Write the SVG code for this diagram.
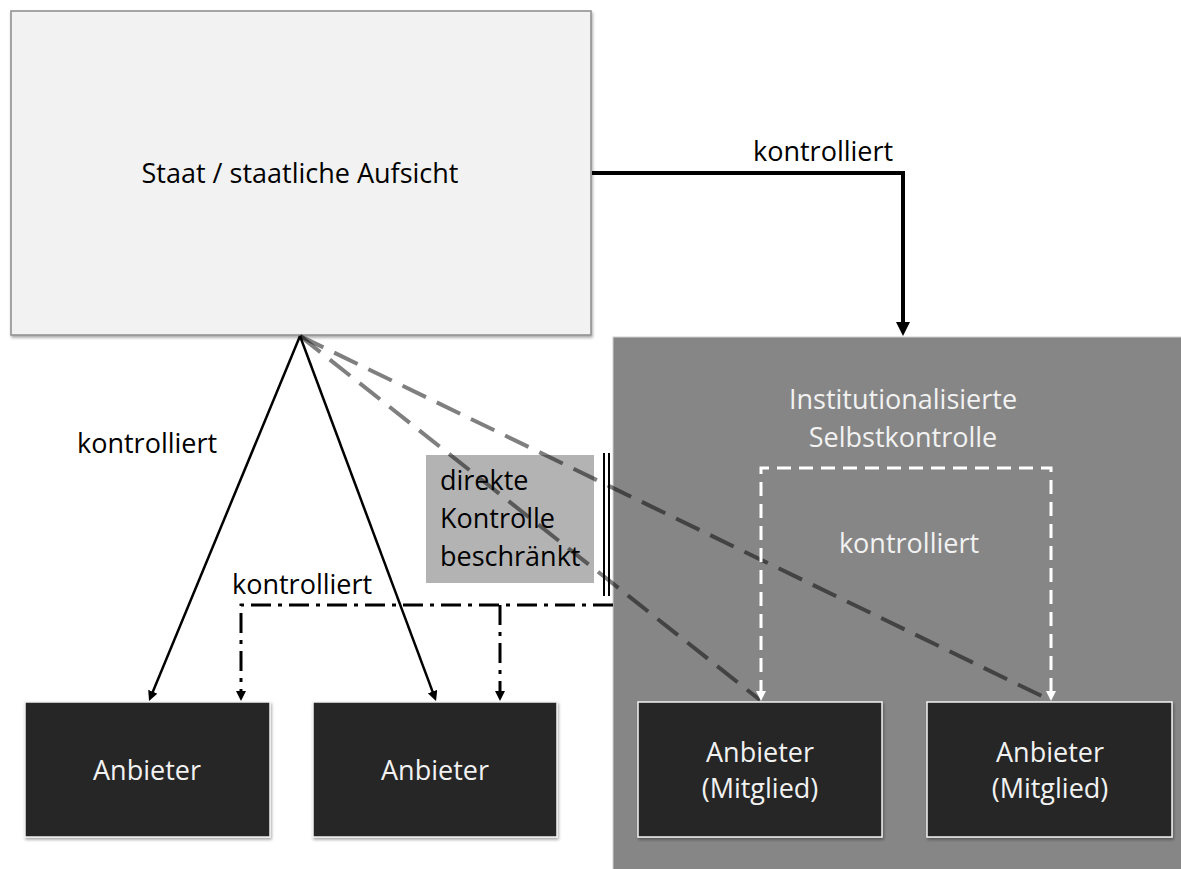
<svg xmlns="http://www.w3.org/2000/svg" width="1181" height="869" viewBox="0 0 1181 869">
<style>
text{font-family:"Open Sans","Liberation Sans",sans-serif;font-size:27px}
.dk{fill:#000}
.wt{fill:#f2f2f2}
.mid{text-anchor:middle}
.prov{fill:#262626;stroke:#f2f2f2;stroke-width:1.5}
.solid{fill:none;stroke:#000;stroke-width:2.5}
.thick{fill:none;stroke:#000;stroke-width:4}
.dashdot{fill:none;stroke:#000;stroke-width:3;stroke-dasharray:20 7 4 7}
.gray{fill:none;stroke:#000;stroke-opacity:0.5;stroke-width:4;stroke-dasharray:26 12}
.white{fill:none;stroke:#fff;stroke-width:3;stroke-dasharray:14 8}
</style>
<defs>
<filter id="sh" x="-5%" y="-5%" width="110%" height="110%">
<feDropShadow dx="1" dy="2" stdDeviation="1.5" flood-color="#000" flood-opacity="0.35"/>
</filter>
<marker id="ah" viewBox="0 0 14 14" markerUnits="userSpaceOnUse" markerWidth="14" markerHeight="14" refX="4" refY="7" orient="auto"><path d="M0,0L14,7L0,14z" fill="#000"/></marker>
<marker id="as" viewBox="0 0 10 10" markerUnits="userSpaceOnUse" markerWidth="10" markerHeight="10" refX="3" refY="5" orient="auto"><path d="M0,0L10,5L0,10z" fill="#000"/></marker>
<marker id="aw" viewBox="0 0 10 10" markerUnits="userSpaceOnUse" markerWidth="10" markerHeight="10" refX="3" refY="5" orient="auto-start-reverse"><path d="M0,0L10,5L0,10z" fill="#fff"/></marker>
</defs>
<rect width="1181" height="869" fill="#fff"/>

<g id="staat">
<rect x="11" y="11" width="580" height="324" fill="#f2f2f2" stroke="#8c8c8c" stroke-width="1.5" filter="url(#sh)"/>
<text class="dk mid" x="300" y="183">Staat / staatliche Aufsicht</text>
</g>

<g id="selbstkontrolle">
<rect x="613" y="337" width="570" height="535" fill="#868686" stroke="#d0d0d0" stroke-width="1"/>
<text class="wt mid" x="903" y="409">Institutionalisierte</text>
<text class="wt mid" x="903" y="447">Selbstkontrolle</text>
</g>

<g id="hinweis">
<rect x="426" y="455" width="168" height="128" fill="#b3b3b3"/>
<text class="dk" x="440" y="490">direkte</text>
<text class="dk" x="440" y="528">Kontrolle</text>
<text class="dk" x="440" y="566">beschränkt</text>
</g>

<g id="connectors">
<path class="thick" d="M592,173H903V326" marker-end="url(#ah)"/>
<path class="solid" d="M300,336L151.7,694.5" marker-end="url(#as)"/>
<path class="solid" d="M300,336L433.6,694.4" marker-end="url(#as)"/>
<path class="dashdot" d="M613,605H241V694" marker-end="url(#as)"/>
<path class="dashdot" d="M500,605V694" marker-end="url(#as)"/>
<line x1="604" y1="453" x2="604" y2="596" stroke="#000" stroke-width="2"/>
<line x1="609" y1="453" x2="609" y2="596" stroke="#000" stroke-width="2"/>
<path class="gray" d="M300,336L760,700"/>
<path class="gray" d="M300,336L1050,700"/>
<path class="white" d="M761,694V468H1051V694" marker-start="url(#aw)" marker-end="url(#aw)"/>
<text class="dk" x="753" y="161">kontrolliert</text>
<text class="dk" x="77" y="453">kontrolliert</text>
<text class="dk" x="232" y="594">kontrolliert</text>
<text class="wt mid" x="909" y="553">kontrolliert</text>
</g>

<g id="anbieter1">
<rect class="prov" x="25" y="702" width="245" height="135" filter="url(#sh)"/>
<text class="wt mid" x="147" y="780">Anbieter</text>
</g>
<g id="anbieter2">
<rect class="prov" x="313" y="702" width="244" height="135" filter="url(#sh)"/>
<text class="wt mid" x="435" y="780">Anbieter</text>
</g>
<g id="anbieter3">
<rect class="prov" x="638" y="702" width="244" height="135" filter="url(#sh)"/>
<text class="wt mid" x="760" y="762">Anbieter</text>
<text class="wt mid" x="760" y="798">(Mitglied)</text>
</g>
<g id="anbieter4">
<rect class="prov" x="927" y="702" width="245" height="135" filter="url(#sh)"/>
<text class="wt mid" x="1050" y="762">Anbieter</text>
<text class="wt mid" x="1050" y="798">(Mitglied)</text>
</g>
</svg>
